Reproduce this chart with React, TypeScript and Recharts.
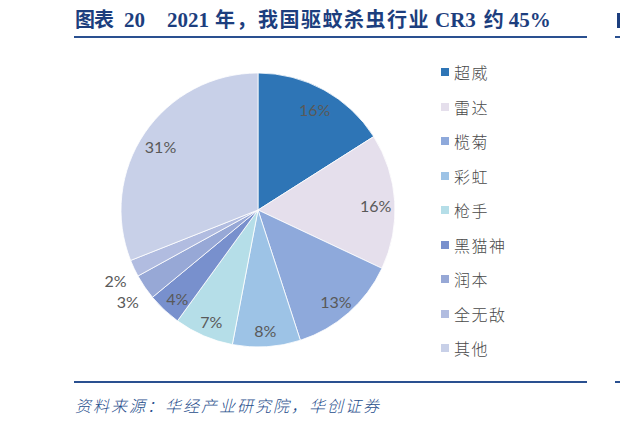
import { PieChart, Pie, Legend } from 'recharts';

// 2021年驱蚊杀虫行业市场份额 (%)
const brands = ['超威', '雷达', '榄菊', '彩虹', '枪手', '黑猫神', '润本', '全无敌', '其他'];
const shares = [16, 16, 13, 8, 7, 4, 3, 2, 31];
const colors = ['#2E75B6', '#E5DFEC', '#8EA9DB', '#9DC3E6', '#B5DEE8', '#7890CD', '#97A8D6', '#B1BCE0', '#C8D0E8'];

const data = brands.map((name, i) => ({ name, value: shares[i], fill: colors[i] }));

const NAVY = '#1C3E7E';
const RULE = '#2A5090';
const RADIAN = Math.PI / 180;

const renderLabel = (props: any) => {
  const { cx, cy, midAngle, outerRadius, percent, value } = props;
  // small slices get their label outside the pie
  const r = percent < 0.035 ? outerRadius * 1.15 : outerRadius * 0.86;
  const x = cx + r * Math.cos(-midAngle * RADIAN);
  const y = cy + r * Math.sin(-midAngle * RADIAN) + 3;
  return (
    <text
      x={x}
      y={y}
      fill="#595959"
      textAnchor="middle"
      dominantBaseline="central"
      fontSize={16}
      fontFamily="Lato, 'Liberation Sans', sans-serif"
    >
      {`${value}%`}
    </text>
  );
};

// keep the legend in data order (Recharts sorts it by name otherwise)
const renderLegend = (props: any) => {
  const payload = props.payload || [];
  const colorOf = (name: string, i: number) =>
    (payload.find((p: any) => p.value === name) || {}).color || colors[i];
  return (
    <div>
      {brands.map((name, i) => (
        <div key={name} style={{ height: 34.5, display: 'flex', alignItems: 'center' }}>
          <span
            style={{
              width: 8,
              height: 8,
              background: colorOf(name, i),
              marginRight: 5,
              display: 'inline-block',
            }}
          />
          <span
            style={{
              fontSize: 16,
              color: '#4A4A4A',
              fontWeight: 300,
              fontFamily: "'Noto Sans CJK SC', sans-serif",
              letterSpacing: 1.5,
            }}
          >
            {name}
          </span>
        </div>
      ))}
    </div>
  );
};

export default function App() {
  const latin = { fontSize: 21 };
  return (
    <div style={{ position: 'relative', width: 620, height: 424, background: '#fff', overflow: 'hidden' }}>
      <style>{`body{margin:0}`}</style>

      {/* title */}
      <div
        style={{
          position: 'absolute',
          left: 75,
          top: 10,
          lineHeight: '20px',
          whiteSpace: 'pre',
          fontWeight: 'bold',
          color: NAVY,
          fontFamily: "'Liberation Serif', 'Noto Sans CJK SC', serif",
          fontSize: 20,
        }}
      >
        <span style={{ letterSpacing: -1 }}>图表</span>
        <span style={{ ...latin, marginLeft: 11 }}>20</span>
        <span style={{ ...latin, marginLeft: 22 }}>2021</span>
        <span style={{ marginLeft: 6, letterSpacing: 1.5 }}>年，我国驱蚊杀虫行业</span>
        <span style={{ ...latin, marginLeft: 5 }}>CR3</span>
        <span style={{ marginLeft: 8 }}>约</span>
        <span style={{ ...latin, marginLeft: 5 }}>45%</span>
      </div>
      <div style={{ position: 'absolute', left: 74, top: 36, width: 513, height: 2, background: RULE }} />
      <div style={{ position: 'absolute', left: 615, top: 36, width: 5, height: 2, background: RULE }} />
      <div style={{ position: 'absolute', left: 617, top: 13, width: 3, height: 15, background: NAVY }} />

      <div style={{ position: 'absolute', left: 0, top: 0 }}>
        <PieChart width={620} height={424} margin={{ top: 0, right: 0, bottom: 0, left: 0 }}>
          <Pie
            data={data}
            dataKey="value"
            nameKey="name"
            cx={258}
            cy={210}
            outerRadius={137}
            startAngle={90}
            endAngle={-270}
            stroke="#ffffff"
            strokeWidth={0.8}
            label={renderLabel}
            labelLine={false}
            legendType="square"
            isAnimationActive={false}
          />
          <Legend
            layout="vertical"
            align="right"
            verticalAlign="top"
            content={renderLegend}
            wrapperStyle={{ left: 441, top: 55, width: 120 }}
          />
        </PieChart>
      </div>

      {/* source */}
      <div style={{ position: 'absolute', left: 74, top: 381, width: 513, height: 2, background: RULE }} />
      <div style={{ position: 'absolute', left: 615, top: 381, width: 5, height: 2, background: RULE }} />
      <div
        style={{
          position: 'absolute',
          left: 75,
          top: 396,
          lineHeight: '18px',
          fontSize: 16,
          letterSpacing: 2,
          fontStyle: 'italic',
          color: '#1F4E8C',
          fontFamily: "'Noto Sans CJK SC', sans-serif",
          fontWeight: 300,
          whiteSpace: 'pre',
        }}
      >
        资料来源：华经产业研究院，华创证券
      </div>
    </div>
  );
}
